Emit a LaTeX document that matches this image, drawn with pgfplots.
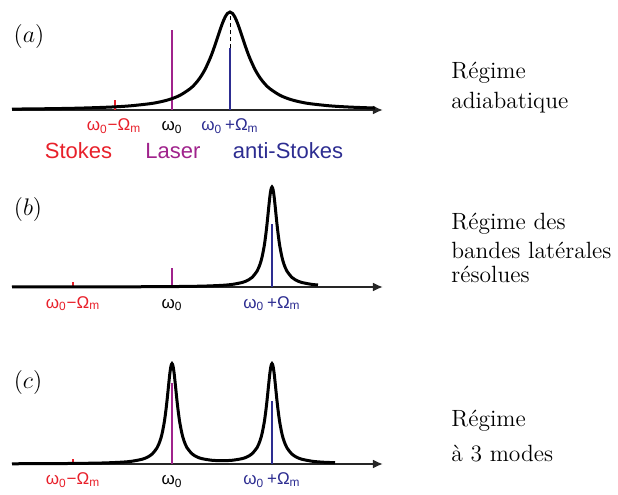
\documentclass[border=0pt]{standalone}
\usepackage{fontspec}
\usepackage{pgfplots}
\pgfplotsset{compat=1.18}
\usepackage{pgfplotstable}
\usetikzlibrary{arrows.meta}
\newfontfamily\lsans{Liberation Sans}
\definecolor{cred}{RGB}{232,32,42}
\definecolor{cmag}{RGB}{160,35,140}
\definecolor{cblue}{RGB}{45,45,145}
\newcommand\wlab[1]{{\lsans\fontsize{8.5}{10}\selectfont #1}}
\newcommand\rtext[1]{{\fontsize{11.75}{14}\selectfont #1}}

\pgfplotstableread{
x h
12 0.90
50 1.32
80 1.88
110 2.91
130 4.14
150 6.32
160 8.09
170 10.7
180 14.7
190 21.2
195 25.9
200 32.2
205 40.5
210 51.4
212.5 57.8
215 64.9
217.5 72.4
220 79.9
222.5 86.9
225 92.7
227.5 96.6
230 98
232.5 96.6
235 92.7
237.5 86.9
240 79.9
242.5 72.4
245 64.9
247.5 57.8
250 51.4
255 40.5
260 32.2
265 25.9
270 21.2
280 14.7
290 10.7
300 8.09
310 6.32
330 4.14
350 2.91
375 1.95
}\tabA

\pgfplotstableread{
x h
12 0.06
60 0.09
100 0.14
150 0.28
172 0.42
202 0.85
222 1.66
232 2.57
242 4.48
247 6.33
252 9.55
257 15.8
260 22.7
262 29.7
264 39.8
265 46.3
266 54.0
267 62.8
268 72.5
269 82.4
270 91.4
271 97.7
272 100
273 97.7
274 91.4
275 82.4
276 72.5
277 62.8
278 54.0
279 46.3
280 39.8
282 29.7
284 22.7
287 15.8
292 9.55
297 6.33
302 4.48
312 2.57
318 2.0
}\tabB

\pgfplotstableread{
x h
12 0.23
60 0.43
100 0.95
122 1.85
132 2.79
142 4.73
147 6.60
152 9.84
157 16.1
160 23.0
162 30.0
164 40.2
165 46.7
166 54.4
167 63.2
168 72.9
169 82.8
170 91.8
171 98.1
172 100.4
173 98.1
174 91.8
175 82.8
176 73.0
177 63.3
178 54.5
179 46.8
180 40.3
182 30.2
184 23.2
187 16.3
192 10.2
197 7.08
202 5.33
212 3.73
222 3.32
232 3.73
242 5.33
247 7.08
252 10.2
257 16.3
260 23.2
262 30.2
264 40.3
265 46.8
266 54.5
267 63.3
268 73.0
269 82.8
270 91.8
271 98.1
272 100.4
273 98.1
274 91.8
275 82.8
276 72.9
277 63.2
278 54.4
279 46.7
280 40.2
282 30.0
284 23.0
287 16.1
292 9.84
297 6.60
302 4.73
312 2.79
322 1.85
335 1.3
}\tabC

\begin{document}
\begin{tikzpicture}
\begin{axis}[width=309pt,height=245pt,scale only axis,
  xmin=0,xmax=618,ymin=0,ymax=490,hide axis,clip=false]
% ---------- panel (a) ----------
\addplot[line width=1pt,color=black!85,-{Latex[length=5pt,width=4.5pt]}] coordinates {(12,380)(383,380)};
\addplot[line width=1pt,color=cred] coordinates {(115,380)(115,390)};
\addplot[line width=1pt,color=cmag] coordinates {(172,380)(172,460)};
\addplot[line width=1pt,color=cblue] coordinates {(230,380)(230,442)};
\addplot[line width=0.4pt,color=black,dashed,dash pattern=on 2pt off 1.5pt] coordinates {(230,442)(230,477)};
\addplot[line width=1.5pt,color=black,smooth] table[x=x,y expr=\thisrow{h}+380]{\tabA};
% ---------- panel (b) ----------
\addplot[line width=1pt,color=black!85,-{Latex[length=5pt,width=4.5pt]}] coordinates {(12,203)(383,203)};
\addplot[line width=1pt,color=cred] coordinates {(73,203)(73,207.5)};
\addplot[line width=1pt,color=cmag] coordinates {(172,203)(172,222)};
\addplot[line width=1pt,color=cblue] coordinates {(272,203)(272,266)};
\addplot[line width=1.5pt,color=black,smooth] table[x=x,y expr=\thisrow{h}+203]{\tabB};
% ---------- panel (c) ----------
\addplot[line width=1pt,color=black!85,-{Latex[length=5pt,width=4.5pt]}] coordinates {(12,26)(383,26)};
\addplot[line width=1pt,color=cred] coordinates {(73,26)(73,31)};
\addplot[line width=1pt,color=cmag] coordinates {(172,26)(172,107)};
\addplot[line width=1pt,color=cblue] coordinates {(272,26)(272,89)};
\addplot[line width=1.5pt,color=black,smooth] table[x=x,y expr=\thisrow{h}+26]{\tabC};
% ---------- labels ----------
\node[anchor=center,font=\fontsize{11.5}{13}\selectfont] at (axis cs:29,454) {$(a)$};
\node[anchor=center,font=\fontsize{11.5}{13}\selectfont] at (axis cs:28,281) {$(b)$};
\node[anchor=center,font=\fontsize{11.5}{13}\selectfont] at (axis cs:28,108) {$(c)$};

\node[anchor=base,text=cred] at (axis cs:114,359) {\wlab{ω\textsubscript{0}−Ω\textsubscript{m}}};
\node[anchor=base,text=black] at (axis cs:172,359) {\wlab{ω\textsubscript{0}}};
\node[anchor=base,text=cblue] at (axis cs:230,359) {\wlab{ω\textsubscript{0}\,+Ω\textsubscript{m}}};
\node[anchor=base,text=cred] at (axis cs:78.5,332) {\lsans\fontsize{11}{13}\selectfont Stokes};
\node[anchor=base,text=cmag] at (axis cs:173,332) {\lsans\fontsize{11}{13}\selectfont Laser};
\node[anchor=base,text=cblue] at (axis cs:288,332) {\lsans\fontsize{11}{13}\selectfont anti-Stokes};

\node[anchor=base,text=cred] at (axis cs:73,182) {\wlab{ω\textsubscript{0}−Ω\textsubscript{m}}};
\node[anchor=base,text=black] at (axis cs:172,182) {\wlab{ω\textsubscript{0}}};
\node[anchor=base,text=cblue] at (axis cs:272,182) {\wlab{ω\textsubscript{0}\,+Ω\textsubscript{m}}};

\node[anchor=base,text=cred] at (axis cs:73,5) {\wlab{ω\textsubscript{0}−Ω\textsubscript{m}}};
\node[anchor=base,text=black] at (axis cs:172,5) {\wlab{ω\textsubscript{0}}};
\node[anchor=base,text=cblue] at (axis cs:272,5) {\wlab{ω\textsubscript{0}\,+Ω\textsubscript{m}}};

\node[anchor=base west,inner sep=0pt] at (axis cs:451,412) {\rtext{Régime}};
\node[anchor=base west,inner sep=0pt] at (axis cs:451,381) {\rtext{adiabatique}};
\node[anchor=base west,inner sep=0pt] at (axis cs:451,261) {\rtext{Régime des}};
\node[anchor=base west,inner sep=0pt] at (axis cs:451,231) {\rtext{bandes latérales}};
\node[anchor=base west,inner sep=0pt] at (axis cs:451,207) {\rtext{résolues}};
\node[anchor=base west,inner sep=0pt] at (axis cs:451,63) {\rtext{Régime}};
\node[anchor=base west,inner sep=0pt] at (axis cs:451,28.5) {\rtext{à 3 modes}};
\end{axis}
\path (current axis.south west) rectangle (current axis.north east);
\end{tikzpicture}
\end{document}
